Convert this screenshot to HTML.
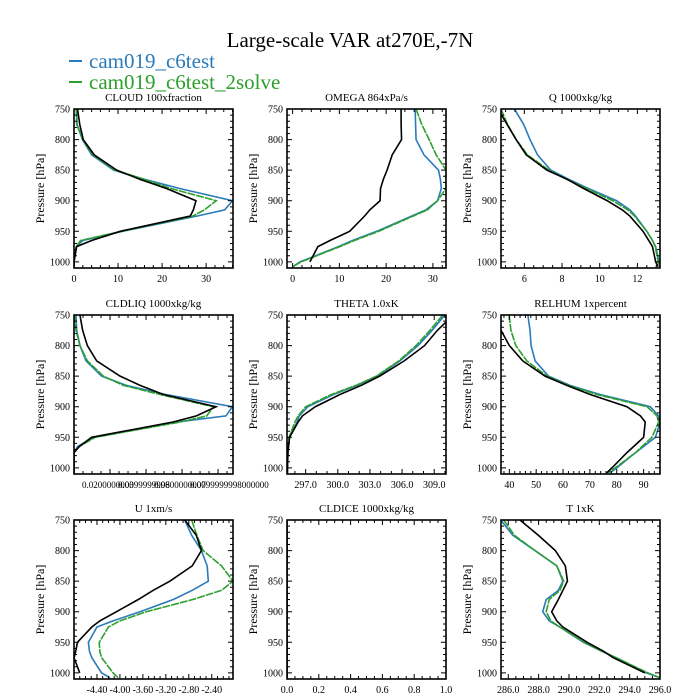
<!DOCTYPE html>
<html><head><meta charset="utf-8"><style>
body{margin:0;background:#fff;}
svg{display:block;font-family:"Liberation Serif",serif;}
</style></head><body>
<svg id="chart" width="700" height="700" viewBox="0 0 700 700">
<text x="350" y="47" font-size="21" text-anchor="middle">Large-scale VAR at270E,-7N</text>
<g>
<line x1="69" y1="61" x2="82" y2="61" stroke="#2b7bba" stroke-width="2"/>
<text x="89" y="68" font-size="21" fill="#2b7bba">cam019_c6test</text>
<line x1="69" y1="82" x2="82" y2="82" stroke="#2ca02c" stroke-width="2"/>
<text x="89" y="89" font-size="21" fill="#2ca02c">cam019_c6test_2solve</text>
</g>
</svg>
<script>
const levels=[750,775,800,825,850,865,880,900,915,925,950,965,975,1000,1008];
const panelTitles=["CLOUD  100xfraction","OMEGA  864xPa/s","Q  1000xkg/kg","CLDLIQ  1000xkg/kg","THETA  1.0xK","RELHUM  1xpercent","U  1xm/s","CLDICE  1000xkg/kg","T  1xK"];
const cloudBlack=[0.8,1.3,2.1,4.6,9.7,15,21,27.7,27.1,26.4,10.5,4,0.6,0,0];
const cloudBlue=[0.6,0.7,1.9,4.0,9.0,16,24,36,34.2,28,11,2,0.5,0,0];
const cloudGreen=[0.5,0.6,2.0,4.3,9.3,16,22,32.3,29.6,27,10.8,1.5,0.5,0,0];
const omegaBlack=[23.2,23.2,23.3,21.3,20.2,19.4,18.8,18.7,16.5,15.4,12.2,8,5.4,3.7,null];
const omegaBlue=[26.2,26.3,26.4,28.1,31.2,31.6,31.8,31,28.5,25.5,18,12.8,9.8,1.6,0];
const omegaGreen=[26.4,27.6,29.2,30.7,32.8,32.8,32.8,31,28.8,25.8,18.4,13.2,10.1,1.8,0];
const qBlack=[4.6,5.08,5.56,6.1,7.2,8.27,9.15,10.4,11.2,11.6,12.3,12.6,12.8,12.97,13.1];
const qBlue=[5.47,5.96,6.3,6.7,7.4,8.36,9.4,10.9,11.6,11.9,12.5,12.8,12.97,13.15,13.2];
const qGreen=[4.76,5.1,5.57,6.16,7.3,8.25,9.3,10.7,11.5,11.85,12.5,12.8,12.95,13.1,13.2];
const liqBlack=[0.0033,0.0048,0.0074,0.0126,0.0256,0.0367,0.0496,0.0789,0.068,0.055,0.0098,0.003,0,0,0];
const liqBlue=[0.0011,0.0015,0.0033,0.0067,0.0154,0.029,0.051,0.088,0.0844,0.057,0.011,0.002,0,0,0];
const liqGreen=[0.0004,0.0011,0.0033,0.0074,0.0163,0.0274,0.0478,0.0774,0.0737,0.0589,0.0117,0.003,0,0,0];
const thetaBlack=[310.8,309.3,308.1,306.2,303.9,302.2,300.2,297.9,296.7,296.3,295.5,295.4,295.35,295.3,295.3];
const thetaBlue=[310.0,308.8,307.5,305.8,303.7,301.8,299.6,297.2,296.4,296.2,295.5,295.4,295.35,295.3,295.3];
const thetaGreen=[309.8,308.6,307.3,305.7,303.6,301.7,299.4,297.0,296.3,296.0,295.45,295.35,295.3,295.3,295.3];
const rhBlack=[33,36.9,40,45,53.3,61.4,70.1,83.8,88.8,90.6,90,86.3,83.8,78.2,76.3];
const rhBlue=[46.9,47.7,48.1,49.6,54.6,62.6,73.8,92.5,95.6,96.2,94.4,90,87,80,77.6];
const rhGreen=[39.9,40.6,42.4,46.5,54,62,72.6,91.3,95,95.6,93.1,89.4,87,79.4,76.9];
const uBlack=[-2.87,-2.67,-2.58,-2.74,-3.13,-3.42,-3.68,-4.06,-4.35,-4.49,-4.74,-4.77,-4.80,-4.70,null];
const uBlue=[-2.87,-2.75,-2.58,-2.48,-2.46,-2.74,-3.07,-3.65,-4.12,-4.40,-4.55,-4.53,-4.49,-4.32,-4.17];
const uGreen=[-2.75,-2.66,-2.55,-2.23,-2.03,-2.23,-2.73,-3.54,-4.0,-4.2,-4.36,-4.35,-4.32,-4.12,-4.03];
const iceBlack=[0,0,0,0,0,0,0,0,0,0,0,0,0,0,0];
const iceBlue=[0,0,0,0,0,0,0,0,0,0,0,0,0,0,0];
const iceGreen=[0,0,0,0,0,0,0,0,0,0,0,0,0,0,0];
const tBlack=[286.77,287.98,289.1,289.76,289.9,289.6,289.3,288.86,289.2,289.6,291.2,292.3,292.9,295.0,null];
const tBlue=[285.5,286.3,287.76,289.2,289.6,289.3,288.5,288.27,288.7,289.4,290.95,292.2,293.1,295.1,296];
const tGreen=[285.7,286.4,287.76,289.2,289.65,289.4,288.7,288.5,288.8,289.4,291.0,292.2,293.1,295.2,296];
const yTicks=[750,800,850,900,950,1000];
const xTickSets=[[0,10,20,30],[0,10,20,30],[6,8,10,12],[0.02,0.04,0.06,0.08],[297,300,303,306,309],[40,50,60,70,80,90],[-4.4,-4.0,-3.6,-3.2,-2.8,-2.4],[0,0.2,0.4,0.6,0.8,1.0],[286,288,290,292,294,296]];
const xTickLabels=[["0","10","20","30"],["0","10","20","30"],["6","8","10","12"],["0.0200000000","0.0399999998","0.0600000000","0.0799999998000000"],["297.0","300.0","303.0","306.0","309.0"],["40","50","60","70","80","90"],["-4.40","-4.00","-3.60","-3.20","-2.80","-2.40"],["0.0","0.2","0.4","0.6","0.8","1.0"],["286.0","288.0","290.0","292.0","294.0","296.0"]];
const seriesData=[[cloudBlue,cloudGreen,cloudBlack],[omegaBlue,omegaGreen,omegaBlack],[qBlue,qGreen,qBlack],[liqBlue,liqGreen,liqBlack],[thetaBlue,thetaGreen,thetaBlack],[rhBlue,rhGreen,rhBlack],[uBlue,uGreen,uBlack],[iceBlue,iceGreen,iceBlack],[tBlue,tGreen,tBlack]];
const xRanges=[[0,36.1],[-1.2,32.8],[4.76,13.2],[0,0.0883],[295.26,310.1],[36.9,96.1],[-4.8,-2.03],[0,1],[285.52,296.0]];
const minorCounts=[5,5,4,4,3,5,4,4,4];
const colX=[74,287,501], rowY=[109,315,520], W=159, H=159;
const colors=["#2b7bba","#2ca02c","#000"];
const names=["c6test","c6test-2solve","reference"];
const NS="http://www.w3.org/2000/svg";
const svg=document.getElementById("chart");
function mk(tag,attrs,parent){const e=document.createElementNS(NS,tag);for(const k in attrs)e.setAttribute(k,attrs[k]);(parent||svg).appendChild(e);return e;}
for(let i=0;i<9;i++){
  const x0=colX[i%3], y0=rowY[Math.floor(i/3)];
  const [xmin,xmax]=xRanges[i];
  const sx=v=>x0+(v-xmin)/(xmax-xmin)*W;
  const sy=p=>y0+(p-750)/(1010-750)*H;
  const slug=panelTitles[i].split(" ")[0].toLowerCase();
  const g=mk("g",{});
  
  
  const t=mk("text",{x:x0+W/2,y:y0-8,"font-size":11,"text-anchor":"middle"},g);
  t.textContent=panelTitles[i];
  
  
  const cp=mk("clipPath",{id:"cp"+i},g);
  mk("rect",{x:x0,y:y0,width:W,height:H},cp);
  for(let s=0;s<3;s++){
    const vals=seriesData[i][s];let d="";let pen=false;
    for(let k=0;k<levels.length;k++){
      if(vals[k]===null||vals[k]===undefined){pen=false;continue;}
      d+=(pen?"L":"M")+sx(vals[k]).toFixed(2)+","+sy(levels[k]).toFixed(2);pen=true;
    }
    const attrs={d:d,fill:"none",stroke:colors[s],"stroke-width":1.6,"clip-path":"url(#cp"+i+")"};
    if(s===1)attrs["stroke-dasharray"]="8,1";
    const pth=mk("path",attrs,g);
    
    
  }
  const fr=mk("rect",{x:x0,y:y0,width:W,height:H,fill:"none",stroke:"#000","stroke-width":1.6},g);
  
  
  let tk="";
  for(let p=750;p<=1010;p+=10){const y=sy(p);const L=(p%50===0)?5:3;tk+=`M${x0},${y}h${L}M${x0+W},${y}h${-L}`;}
  const xt=xTickSets[i];const step=xt.length>1?xt[1]-xt[0]:1;const mc=minorCounts[i];
  for(let v=xt[0]-step*10;v<=xmax+1e-9;v+=step/mc){
    if(v<xmin-1e-9)continue;const x=sx(v);
    const rel=Math.abs(((v-xt[0])/step)-Math.round((v-xt[0])/step))<1e-6;const L=rel?5:3;
    tk+=`M${x},${y0+H}v${-L}M${x},${y0}v${L}`;
  }
  mk("path",{d:tk,stroke:"#000","stroke-width":1,fill:"none"},g);
  const ya=mk("g",{},g);
  
  
  yTicks.forEach(p=>{const e=mk("text",{x:x0-4,y:sy(p)+3.5,"font-size":10,"text-anchor":"end"},ya);e.textContent=p;});
  const yl=mk("text",{x:0,y:0,"font-size":12,"text-anchor":"middle",transform:`translate(${x0-30},${y0+H/2}) rotate(-90)`},g);
  yl.textContent="Pressure [hPa]";
  
  
  const xa=mk("g",{},g);
  
  
  xt.forEach((v,j)=>{const e=mk("text",{x:sx(v),y:y0+H+14,"font-size":(i===3?9:10),"text-anchor":(i===3?"start":"middle")},xa);
    if(i===3)e.setAttribute("x",sx(v)-28);
    e.textContent=xTickLabels[i][j];});
}
</script>
</body></html>
